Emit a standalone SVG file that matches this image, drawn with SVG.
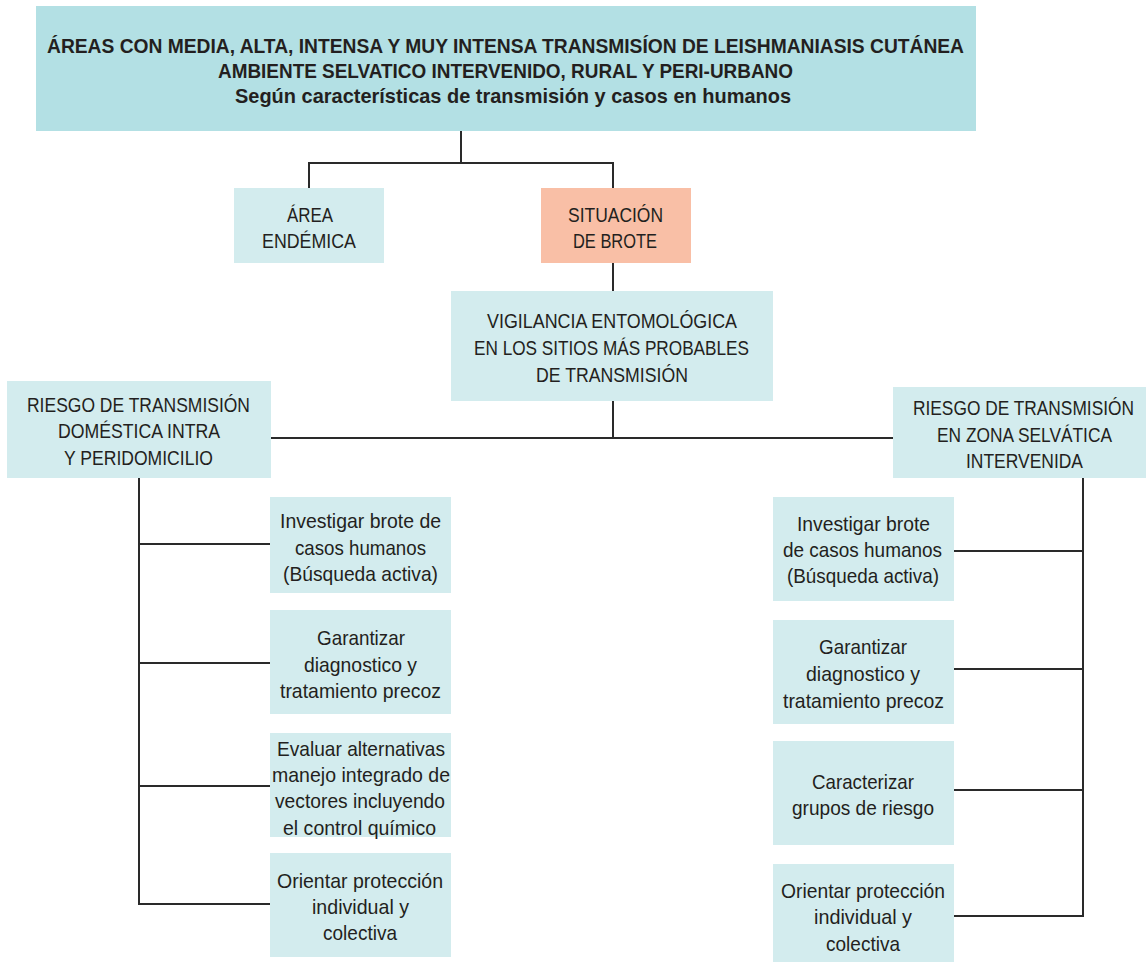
<svg xmlns="http://www.w3.org/2000/svg" width="1147" height="962" viewBox="0 0 1147 962">
  <style>
    .hdr { fill: #b3e0e4; }
    .box { fill: #d3ecee; }
    .alert { fill: #f9bfa6; }
    .link { fill: none; stroke: #2a2a2a; stroke-width: 2; }
    text { font-family: "Liberation Sans", Arial, sans-serif; fill: #231f20; }
    .t { font-size: 21px; }
    .b { font-size: 20.5px; font-weight: bold; }
  </style>

  <!-- connectors -->
  <g id="connectors">
    <path class="link" d="M461 131 V163"/>
    <path class="link" d="M309 188 V163 H613 V188"/>
    <path class="link" d="M613 263 V291"/>
    <path class="link" d="M613 401 V438"/>
    <path class="link" d="M271 438 H893"/>
    <path class="link" d="M139 478 V904 H270"/>
    <path class="link" d="M139 544 H270 M139 663 H270 M139 786 H270"/>
    <path class="link" d="M1083 478 V916 H954"/>
    <path class="link" d="M954 551 H1083 M954 669 H1083 M954 790 H1083"/>
  </g>

  <g id="header">
    <rect class="hdr" x="36" y="6" width="940" height="125"/>
    <text class="b" x="47" y="53" textLength="917" lengthAdjust="spacingAndGlyphs">ÁREAS CON MEDIA, ALTA, INTENSA Y MUY INTENSA TRANSMISÍON DE LEISHMANIASIS CUTÁNEA</text>
    <text class="b" x="218" y="78" textLength="575" lengthAdjust="spacingAndGlyphs">AMBIENTE SELVATICO INTERVENIDO, RURAL Y PERI-URBANO</text>
    <text class="b" x="235" y="103" textLength="556" lengthAdjust="spacingAndGlyphs">Según características de transmisión y casos en humanos</text>
  </g>

  <g id="area-endemica">
    <rect class="box" x="234" y="188" width="150" height="75"/>
    <text class="t" x="287" y="222" textLength="46" lengthAdjust="spacingAndGlyphs">ÁREA</text>
    <text class="t" x="262" y="248" textLength="94" lengthAdjust="spacingAndGlyphs">ENDÉMICA</text>
  </g>

  <g id="situacion-brote">
    <rect class="alert" x="541" y="188" width="150" height="75"/>
    <text class="t" x="568" y="222" textLength="95" lengthAdjust="spacingAndGlyphs">SITUACIÓN</text>
    <text class="t" x="573" y="248" textLength="84" lengthAdjust="spacingAndGlyphs">DE BROTE</text>
  </g>

  <g id="vigilancia">
    <rect class="box" x="451" y="291" width="322" height="110"/>
    <text class="t" x="487" y="328" textLength="250" lengthAdjust="spacingAndGlyphs">VIGILANCIA ENTOMOLÓGICA</text>
    <text class="t" x="474" y="355" textLength="275" lengthAdjust="spacingAndGlyphs">EN LOS SITIOS MÁS PROBABLES</text>
    <text class="t" x="536" y="382" textLength="152" lengthAdjust="spacingAndGlyphs">DE TRANSMISIÓN</text>
  </g>

  <g id="riesgo-domestico">
    <rect class="box" x="7" y="381" width="264" height="97"/>
    <text class="t" x="27" y="412" textLength="223" lengthAdjust="spacingAndGlyphs">RIESGO DE TRANSMISIÓN</text>
    <text class="t" x="58" y="438" textLength="162" lengthAdjust="spacingAndGlyphs">DOMÉSTICA INTRA</text>
    <text class="t" x="64" y="465" textLength="149" lengthAdjust="spacingAndGlyphs">Y PERIDOMICILIO</text>
  </g>

  <g id="riesgo-selvatico">
    <rect class="box" x="893" y="387" width="253" height="91"/>
    <text class="t" x="913" y="415" textLength="221" lengthAdjust="spacingAndGlyphs">RIESGO DE TRANSMISIÓN</text>
    <text class="t" x="937" y="442" textLength="175" lengthAdjust="spacingAndGlyphs">EN ZONA SELVÁTICA</text>
    <text class="t" x="966" y="468" textLength="117" lengthAdjust="spacingAndGlyphs">INTERVENIDA</text>
  </g>

  <!-- domestic branch actions -->
  <g id="dom-investigar">
    <rect class="box" x="270" y="497" width="181" height="96"/>
    <text class="t" x="280" y="528" textLength="161" lengthAdjust="spacingAndGlyphs">Investigar brote de</text>
    <text class="t" x="295" y="555" textLength="131" lengthAdjust="spacingAndGlyphs">casos humanos</text>
    <text class="t" x="283" y="581" textLength="155" lengthAdjust="spacingAndGlyphs">(Búsqueda activa)</text>
  </g>

  <g id="dom-garantizar">
    <rect class="box" x="270" y="610" width="181" height="104"/>
    <text class="t" x="317" y="645" textLength="88" lengthAdjust="spacingAndGlyphs">Garantizar</text>
    <text class="t" x="304" y="672" textLength="113" lengthAdjust="spacingAndGlyphs">diagnostico y</text>
    <text class="t" x="280" y="698" textLength="161" lengthAdjust="spacingAndGlyphs">tratamiento precoz</text>
  </g>

  <g id="dom-evaluar">
    <rect class="box" x="270" y="733" width="181" height="104"/>
    <text class="t" x="277" y="756" textLength="168" lengthAdjust="spacingAndGlyphs">Evaluar alternativas</text>
    <text class="t" x="272" y="782" textLength="178" lengthAdjust="spacingAndGlyphs">manejo integrado de</text>
    <text class="t" x="275" y="808" textLength="170" lengthAdjust="spacingAndGlyphs">vectores incluyendo</text>
    <text class="t" x="283" y="835" textLength="153" lengthAdjust="spacingAndGlyphs">el control químico</text>
  </g>

  <g id="dom-orientar">
    <rect class="box" x="270" y="853" width="181" height="104"/>
    <text class="t" x="277" y="888" textLength="166" lengthAdjust="spacingAndGlyphs">Orientar protección</text>
    <text class="t" x="312" y="914" textLength="97" lengthAdjust="spacingAndGlyphs">individual y</text>
    <text class="t" x="323" y="940" textLength="74" lengthAdjust="spacingAndGlyphs">colectiva</text>
  </g>

  <!-- sylvatic branch actions -->
  <g id="sel-investigar">
    <rect class="box" x="773" y="497" width="181" height="104"/>
    <text class="t" x="797" y="531" textLength="133" lengthAdjust="spacingAndGlyphs">Investigar brote</text>
    <text class="t" x="783" y="557" textLength="159" lengthAdjust="spacingAndGlyphs">de casos humanos</text>
    <text class="t" x="787" y="583" textLength="152" lengthAdjust="spacingAndGlyphs">(Búsqueda activa)</text>
  </g>

  <g id="sel-garantizar">
    <rect class="box" x="773" y="620" width="181" height="104"/>
    <text class="t" x="819" y="654" textLength="88" lengthAdjust="spacingAndGlyphs">Garantizar</text>
    <text class="t" x="806" y="681" textLength="114" lengthAdjust="spacingAndGlyphs">diagnostico y</text>
    <text class="t" x="783" y="708" textLength="161" lengthAdjust="spacingAndGlyphs">tratamiento precoz</text>
  </g>

  <g id="sel-caracterizar">
    <rect class="box" x="773" y="741" width="181" height="104"/>
    <text class="t" x="812" y="789" textLength="102" lengthAdjust="spacingAndGlyphs">Caracterizar</text>
    <text class="t" x="792" y="815" textLength="142" lengthAdjust="spacingAndGlyphs">grupos de riesgo</text>
  </g>

  <g id="sel-orientar">
    <rect class="box" x="773" y="864" width="181" height="98"/>
    <text class="t" x="781" y="898" textLength="164" lengthAdjust="spacingAndGlyphs">Orientar protección</text>
    <text class="t" x="814" y="924" textLength="98" lengthAdjust="spacingAndGlyphs">individual y</text>
    <text class="t" x="826" y="951" textLength="74" lengthAdjust="spacingAndGlyphs">colectiva</text>
  </g>
</svg>
